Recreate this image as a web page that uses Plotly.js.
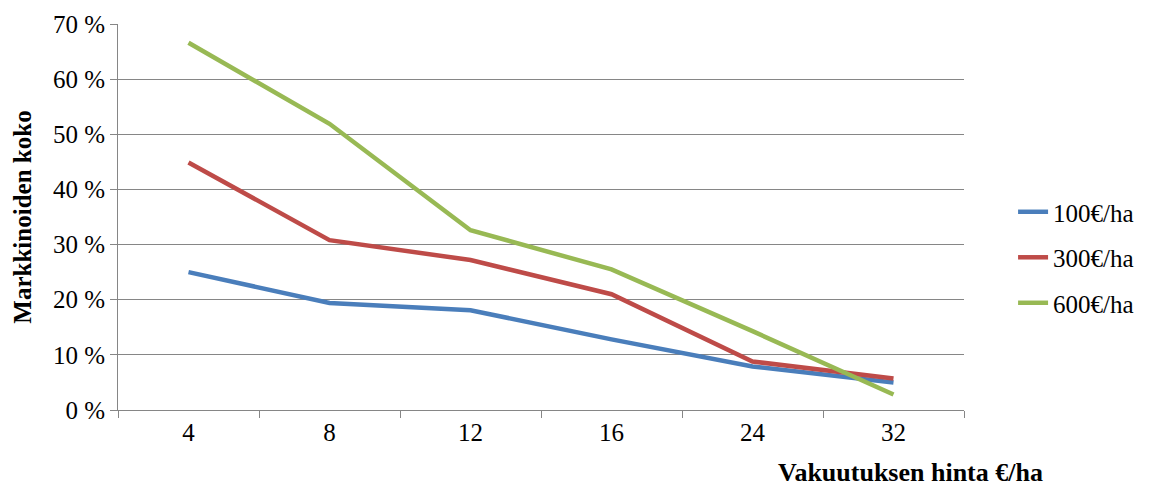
<!DOCTYPE html>
<html>
<head>
<meta charset="utf-8">
<script src="https://cdn.plot.ly/plotly-3.0.1.min.js"></script>
<style>html,body{margin:0;padding:0;background:#fff;}#chart{width:1151px;height:492px;}</style>
</head>
<body>
<div id="chart"></div>
<script>
const categories = ['4', '8', '12', '16', '24', '32'];
const seriesNames = ['100\u20AC/ha', '300\u20AC/ha', '600\u20AC/ha'];
const s100 = [25.0, 19.4, 18.1, 12.8, 7.9, 5.0];
const s300 = [44.9, 30.8, 27.2, 21.0, 8.8, 5.7];
const s600 = [66.6, 51.9, 32.6, 25.5, 14.3, 2.8];
const yTicks = [0, 10, 20, 30, 40, 50, 60, 70];
const yTickLabels = ['0 %', '10 %', '20 %', '30 %', '40 %', '50 %', '60 %', '70 %'];
const colors = ['#4A7EBB', '#BE4B48', '#98B954'];
const values = [s100, s300, s600];

const font = 'Liberation Serif';
const traces = values.map((v, i) => ({
  type: 'scatter', mode: 'lines', x: categories, y: v, name: seriesNames[i],
  legendgroup: 'g' + i,
  line: {color: colors[i], width: 4.5}
}));

const layout = {
  width: 1151, height: 492,
  margin: {l: 118, r: 187, t: 24, b: 82},
  paper_bgcolor: '#fff', plot_bgcolor: '#fff',
  font: {family: font, size: 25, color: '#000'},
  showlegend: true,
  legend: {x: 1.058, xanchor: 'left', y: 0.395, yanchor: 'middle', traceorder: 'grouped', tracegroupgap: 10,
           itemwidth: 30,
           font: {family: font, size: 25, color: '#000'}, bgcolor: 'rgba(0,0,0,0)'},
  xaxis: {type: 'category', tickson: 'boundaries', ticks: 'outside', ticklen: 7, tickcolor: '#868686',
          showline: true, linecolor: '#868686', linewidth: 1, showgrid: false, zeroline: false,
          tickfont: {family: font, size: 25}, range: [-0.5, 5.5], fixedrange: true},
  yaxis: {range: [0, 70], tickvals: yTicks, ticktext: yTickLabels, ticks: 'outside', ticklen: 7, tickcolor: '#868686',
          showline: true, linecolor: '#868686', linewidth: 1, showgrid: true, gridcolor: '#868686', gridwidth: 1,
          zeroline: false, tickfont: {family: font, size: 25},
          title: {text: '<b>Markkinoiden koko</b>', font: {family: font, size: 25}, standoff: 14}},
  annotations: [{text: '<b>Vakuutuksen hinta \u20AC/ha</b>', xref: 'paper', yref: 'paper', x: 0.937, y: -0.118,
                 xanchor: 'center', yanchor: 'top', showarrow: false, font: {family: font, size: 26, color: '#000'}}]
};
Plotly.newPlot('chart', traces, layout, {staticPlot: true, displayModeBar: false});
</script>
</body>
</html>
